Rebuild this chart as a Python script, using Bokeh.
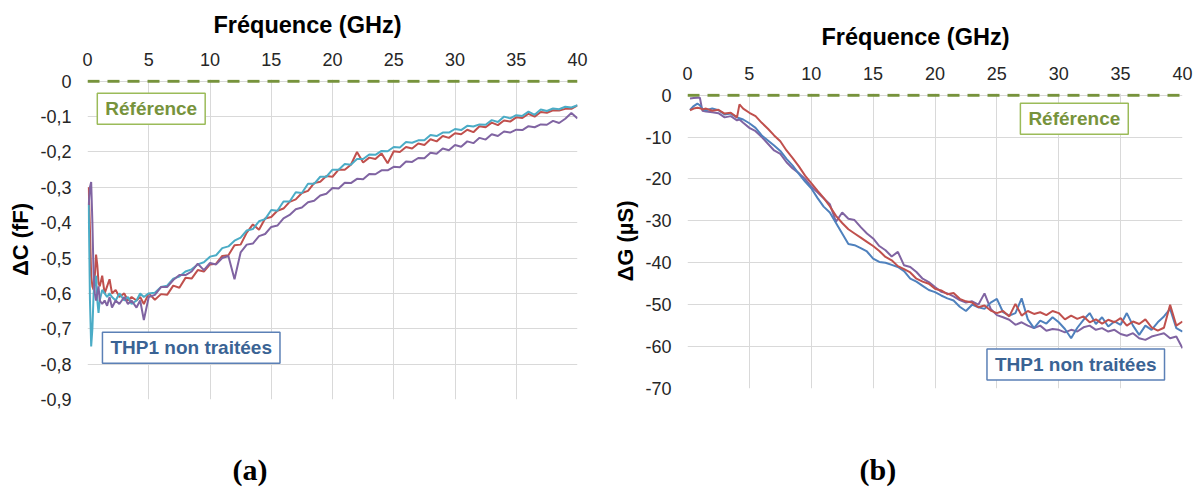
from bokeh.plotting import figure
from bokeh.layouts import row, column
from bokeh.models import Range1d, FixedTicker, CustomJSTickFormatter, Label, Title
from bokeh.embed import file_html
from bokeh.resources import INLINE

# ---------------- data : panel (a) ΔC (fF) ----------------
freq_a = [0.1, 0.2, 0.3, 0.4, 0.5, 0.6, 0.7, 0.8, 0.9, 1.0,
          1.2, 1.4, 1.6, 1.8, 2.0, 2.3, 2.6, 3.0, 3.3, 3.6,
          4.0, 4.3, 4.6, 5.0, 5.5, 6.0, 6.5, 7.0, 7.5, 8.0,
          8.5, 9.0, 9.5, 10.0, 10.5, 11.0, 11.5, 12.0, 12.5, 13.0,
          13.5, 14.0, 14.5, 15.0, 15.5, 16.0, 16.5, 17.0, 17.5, 18.0,
          18.5, 19.0, 19.5, 20.0, 20.5, 21.0, 21.5, 22.0, 22.5, 23.0,
          23.5, 24.0, 24.5, 25.0, 25.5, 26.0, 26.5, 27.0, 27.5, 28.0,
          28.5, 29.0, 29.5, 30.0, 30.5, 31.0, 31.5, 32.0, 32.5, 33.0,
          33.5, 34.0, 34.5, 35.0, 35.5, 36.0, 36.5, 37.0, 37.5, 38.0,
          38.5, 39.0, 39.5, 40.0]
dc_red = [-0.30, -0.42, -0.55, -0.58, -0.59, -0.55, -0.49, -0.52, -0.57, -0.58,
          -0.55, -0.60, -0.58, -0.56, -0.60, -0.59, -0.61, -0.60, -0.62, -0.61,
          -0.62, -0.61, -0.63, -0.60, -0.618, -0.602, -0.604, -0.578, -0.584, -0.556,
          -0.558, -0.534, -0.538, -0.518, -0.516, -0.494, -0.492, -0.464, -0.462, -0.428,
          -0.405, -0.420, -0.388, -0.384, -0.366, -0.360, -0.341, -0.334, -0.316, -0.310,
          -0.288, -0.284, -0.268, -0.270, -0.250, -0.250, -0.236, -0.200, -0.230, -0.216,
          -0.220, -0.204, -0.232, -0.198, -0.200, -0.186, -0.190, -0.176, -0.180, -0.164,
          -0.170, -0.155, -0.160, -0.147, -0.150, -0.137, -0.144, -0.127, -0.130, -0.117,
          -0.124, -0.111, -0.114, -0.102, -0.104, -0.092, -0.100, -0.087, -0.089, -0.082,
          -0.083, -0.078, -0.078, -0.068]
dc_cyan = [-0.35, -0.62, -0.75, -0.70, -0.60, -0.57, -0.55, -0.62, -0.655, -0.62,
           -0.59, -0.60, -0.61, -0.60, -0.61, -0.62, -0.60, -0.62, -0.61, -0.63,
           -0.62, -0.60, -0.61, -0.60, -0.598, -0.582, -0.578, -0.558, -0.552, -0.538,
           -0.532, -0.518, -0.512, -0.496, -0.492, -0.472, -0.467, -0.451, -0.442, -0.422,
           -0.418, -0.396, -0.390, -0.364, -0.366, -0.340, -0.340, -0.314, -0.316, -0.290,
           -0.290, -0.270, -0.270, -0.250, -0.250, -0.234, -0.236, -0.220, -0.220, -0.207,
           -0.208, -0.197, -0.198, -0.186, -0.187, -0.172, -0.174, -0.167, -0.167, -0.152,
           -0.155, -0.145, -0.145, -0.135, -0.138, -0.126, -0.128, -0.122, -0.123, -0.110,
           -0.115, -0.100, -0.105, -0.096, -0.098, -0.086, -0.095, -0.080, -0.084, -0.077,
           -0.079, -0.072, -0.074, -0.068]
dc_purple = [-0.35, -0.30, -0.285, -0.40, -0.55, -0.60, -0.62, -0.60, -0.58, -0.62,
             -0.63, -0.62, -0.635, -0.61, -0.64, -0.62, -0.63, -0.61, -0.63, -0.62,
             -0.64, -0.62, -0.675, -0.61, -0.604, -0.582, -0.582, -0.562, -0.548, -0.548,
             -0.538, -0.516, -0.534, -0.514, -0.518, -0.500, -0.494, -0.560, -0.484, -0.462,
             -0.459, -0.438, -0.432, -0.412, -0.408, -0.388, -0.378, -0.362, -0.357, -0.342,
             -0.338, -0.323, -0.318, -0.302, -0.303, -0.287, -0.288, -0.276, -0.277, -0.262,
             -0.263, -0.252, -0.252, -0.242, -0.243, -0.227, -0.228, -0.217, -0.218, -0.202,
             -0.205, -0.190, -0.195, -0.180, -0.185, -0.170, -0.175, -0.160, -0.165, -0.150,
             -0.155, -0.142, -0.145, -0.137, -0.138, -0.127, -0.130, -0.122, -0.123, -0.112,
             -0.118, -0.106, -0.090, -0.105]

# ---------------- data : panel (b) ΔG (µS) ----------------
freq_b = [0.2, 0.5, 0.8, 1.0, 1.2, 1.5, 2.0, 2.5, 3.0, 3.5,
          4.0, 4.2, 4.5, 5.0, 5.5, 6.0, 6.5, 7.0, 7.5, 8.0,
          8.5, 9.0, 9.5, 10.0, 10.5, 11.0, 11.5, 12.0, 12.5, 13.0,
          13.5, 14.0, 14.5, 15.0, 15.5, 16.0, 16.5, 17.0, 17.5, 18.0,
          18.5, 19.0, 19.5, 20.0, 20.5, 21.0, 21.5, 22.0, 22.5, 23.0,
          23.5, 24.0, 24.5, 25.0, 25.5, 26.0, 26.5, 27.0, 27.5, 28.0,
          28.5, 29.0, 29.5, 30.0, 30.5, 31.0, 31.5, 32.0, 32.5, 33.0,
          33.5, 34.0, 34.5, 35.0, 35.5, 36.0, 36.5, 37.0, 37.5, 38.0,
          38.5, 39.0, 39.5, 40.0]
dg_red = [-3.6, -3.2, -3.0, -3.1, -3.4, -3.2, -3.7, -3.5, -4.4, -4.2,
          -5.3, -2.2, -3.2, -4.2, -5.0, -6.6, -8.0, -9.6, -11.0, -13.2,
          -15.0, -17.0, -19.2, -21.0, -22.8, -24.5, -26.5, -28.8, -30.5, -32.0,
          -33.0, -34.0, -35.0, -36.0, -37.2, -38.6, -39.4, -40.8, -41.5, -42.3,
          -43.8, -44.5, -45.0, -46.2, -46.6, -47.5, -47.2, -48.6, -49.2, -49.5,
          -50.6, -50.2, -51.4, -52.0, -51.5, -52.8, -49.8, -52.6, -51.5, -52.2,
          -51.8, -52.5, -51.5, -52.0, -53.5, -52.6, -53.4, -52.8, -54.2, -53.5,
          -54.5, -53.6, -54.2, -53.2, -55.0, -54.0, -54.6, -53.5, -55.4, -56.2,
          -55.5, -50.0, -55.0, -54.0]
dg_blue = [-3.5, -2.6, -2.0, -2.4, -3.3, -3.6, -3.2, -3.6, -4.6, -4.4,
           -5.3, -5.5, -5.8, -6.7, -7.8, -9.6, -10.8, -12.0, -13.3, -15.2,
           -16.8, -18.8, -20.6, -22.2, -24.5, -26.6, -28.0, -30.5, -33.0, -35.5,
           -35.8, -36.5, -37.3, -39.0, -39.8, -40.0, -40.5, -41.0, -42.0, -43.8,
           -44.5, -45.5, -46.5, -47.0, -47.8, -48.5, -49.0, -50.5, -51.5, -50.0,
           -50.6, -51.0, -49.5, -48.6, -51.8, -52.6, -52.0, -48.5, -53.5, -55.6,
           -53.8, -54.5, -53.0, -54.2, -55.8, -58.0, -55.5, -53.6, -52.0, -54.6,
           -53.0, -55.2, -54.0, -54.8, -52.0, -55.0, -57.2, -55.0, -56.0, -54.2,
           -52.8, -51.0, -55.6, -56.4]
dg_purple = [-0.8, -0.7, -0.6, -0.6, -3.7, -3.9, -4.1, -4.3, -5.3, -5.0,
             -6.0, -5.8, -6.6, -7.8, -8.6, -10.0, -11.6, -13.2, -14.0, -16.0,
             -17.5, -18.6, -20.0, -21.8, -23.2, -24.6, -26.0, -30.2, -28.0, -29.5,
             -29.8, -31.5, -33.0, -34.2, -36.0, -37.0, -38.5, -37.4, -40.6, -41.0,
             -42.2, -43.8, -44.6, -45.8, -46.9, -47.3, -48.0, -48.9, -49.5, -49.2,
             -50.0, -47.3, -51.0, -52.5, -53.0, -53.6, -54.8, -54.2, -55.0, -55.6,
             -55.0, -56.2, -55.8, -56.0, -56.6, -56.0, -56.4, -55.4, -55.0, -56.0,
             -55.6, -56.4, -56.0, -57.0, -57.4, -56.8, -58.0, -58.4, -57.6, -57.2,
             -56.8, -58.0, -57.6, -60.4]

# reference (zero) line
ref_freq = [0, 40]
ref_val = [0, 0]

# ticks and labels
x_ticks = [0, 5, 10, 15, 20, 25, 30, 35, 40]
x_labels = ["0", "5", "10", "15", "20", "25", "30", "35", "40"]
ya_ticks = [0, -0.1, -0.2, -0.3, -0.4, -0.5, -0.6, -0.7, -0.8, -0.9]
ya_labels = ["0", "-0,1", "-0,2", "-0,3", "-0,4", "-0,5", "-0,6", "-0,7", "-0,8", "-0,9"]
yb_ticks = [0, -10, -20, -30, -40, -50, -60, -70]
yb_labels = ["0", "-10", "-20", "-30", "-40", "-50", "-60", "-70"]

RED = "#C0504D"
CYAN = "#4BACC6"
PURPLE = "#8064A2"
BLUE = "#4F81BD"
GREEN = "#77933C"
GREEN_BORDER = "#9BBB59"
TXT_BLUE = "#3A6394"
BOX_BLUE = "#5B80B6"
GRID = "#D9D9D9"
SANS = "Liberation Sans"

FMT_CODE = """
let best = 0, d = Infinity;
for (let i = 0; i < tv.length; i++) {
  const e = Math.abs(tv[i] - tick);
  if (e < d) { d = e; best = i; }
}
return tl[best];
"""


def style(p, yt, yl, ylabel, title_offset, title_standoff, caption, caption_offset, caption_gap):
    p.title.text = "Fréquence (GHz)"
    p.title.text_font = SANS
    p.title.text_font_size = "23.5px"
    p.title.text_font_style = "bold"
    p.title.text_color = "black"
    p.title.align = "left"
    p.title.vertical_align = "top"
    p.title.offset = title_offset
    p.title.standoff = title_standoff

    # empty spacer panel, then the caption below it
    p.add_layout(Title(text=" ", text_font_size="2px", standoff=caption_gap), "below")
    p.add_layout(Title(text=caption, align="left", offset=caption_offset, standoff=0,
                       text_font="Liberation Serif", text_font_size="30px",
                       text_font_style="bold", text_color="black"), "below")

    xa = p.xaxis[0]
    xa.ticker = FixedTicker(ticks=x_ticks)
    xa.formatter = CustomJSTickFormatter(args=dict(tv=x_ticks, tl=x_labels), code=FMT_CODE)
    ya = p.yaxis[0]
    ya.ticker = FixedTicker(ticks=yt)
    ya.formatter = CustomJSTickFormatter(args=dict(tv=yt, tl=yl), code=FMT_CODE)
    ya.axis_label = ylabel
    ya.axis_label_text_font = SANS
    ya.axis_label_text_font_size = "22px"
    ya.axis_label_text_font_style = "bold"
    ya.axis_label_text_color = "black"
    ya.axis_label_standoff = 4
    for ax in (xa, ya):
        ax.axis_line_color = None
        ax.major_tick_line_color = None
        ax.minor_tick_line_color = None
        ax.major_tick_out = 0
        ax.major_tick_in = 0
        ax.major_label_text_font = SANS
        ax.major_label_text_font_size = "18px"
        ax.major_label_text_color = "#262626"
    xa.major_label_standoff = 14
    ya.major_label_standoff = 16
    p.xgrid.ticker = FixedTicker(ticks=x_ticks)
    p.ygrid.ticker = FixedTicker(ticks=yt)
    p.xgrid.grid_line_color = GRID
    p.ygrid.grid_line_color = GRID
    p.outline_line_color = None
    p.background_fill_color = "white"
    p.border_fill_color = "white"


def box_label(p, x, y, text, color, border):
    p.add_layout(Label(x=x, y=y, text=text, text_font=SANS, text_font_size="19px",
                       text_font_style="bold", text_color=color,
                       text_align="left", text_baseline="top",
                       background_fill_color="white", border_line_color=border,
                       border_line_width=1.5, padding=(8, 5)))


# ---------------- panel (a) ----------------
pa = figure(width=610, height=495, x_range=Range1d(0, 40), y_range=Range1d(-0.9, 0.005),
            x_axis_location="above", output_backend="svg", toolbar_location=None,
            min_border_left=87, min_border_right=33, min_border_top=79, min_border_bottom=96,
            title="Fréquence (GHz)")
style(pa, ya_ticks, ya_labels, "ΔC (fF)", 126, 19, "(a)", 145, 47)
pa.line(ref_freq, ref_val, line_color=GREEN, line_width=3, line_dash="12 8")
pa.line(freq_a, dc_red, line_color=RED, line_width=2)
pa.line(freq_a, dc_cyan, line_color=CYAN, line_width=2)
pa.line(freq_a, dc_purple, line_color=PURPLE, line_width=2)
box_label(pa, 0.8, -0.034, "Référence", GREEN, GREEN_BORDER)
box_label(pa, 1.22, -0.71, "THP1 non traitées", TXT_BLUE, BOX_BLUE)

# ---------------- panel (b) ----------------
pb = figure(width=585, height=495, x_range=Range1d(0, 40), y_range=Range1d(-70, 0.4),
            x_axis_location="above", output_backend="svg", toolbar_location=None,
            min_border_left=76, min_border_right=13, min_border_top=93, min_border_bottom=107,
            title="Fréquence (GHz)")
style(pb, yb_ticks, yb_labels, "ΔG (µS)", 134, 24, "(b)", 172, 58)
pb.line(ref_freq, ref_val, line_color=GREEN, line_width=3, line_dash="12 8")
pb.line(freq_b, dg_purple, line_color=PURPLE, line_width=2)
pb.line(freq_b, dg_blue, line_color=BLUE, line_width=2)
pb.line(freq_b, dg_red, line_color=RED, line_width=2)
box_label(pb, 26.9, -1.9, "Référence", GREEN, GREEN_BORDER)
box_label(pb, 24.2, -60.6, "THP1 non traitées", TXT_BLUE, BOX_BLUE)

layout = row(column(pa), column(pb))
open("out.html", "w").write(file_html(layout, INLINE))
